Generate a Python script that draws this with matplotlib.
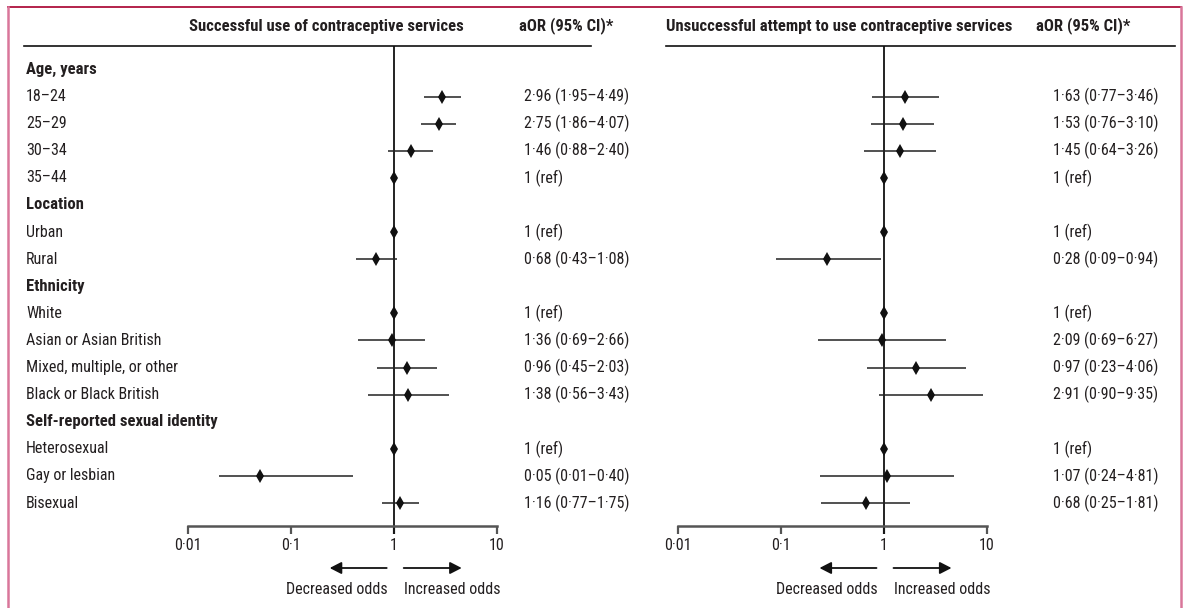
import numpy as np
import matplotlib
matplotlib.use("Agg")
import matplotlib.pyplot as plt
from matplotlib import font_manager
from matplotlib.transforms import blended_transform_factory
from matplotlib.lines import Line2D
from matplotlib.patches import FancyArrowPatch
from matplotlib.ticker import FixedLocator, FixedFormatter, NullLocator

# ---------------- data ----------------
row_labels = ["Age, years", "18–24", "25–29", "30–34", "35–44",
              "Location", "Urban", "Rural",
              "Ethnicity", "White", "Asian or Asian British",
              "Mixed, multiple, or other", "Black or Black British",
              "Self-reported sexual identity", "Heterosexual",
              "Gay or lesbian", "Bisexual"]
row_is_header = [True, False, False, False, False,
                 True, False, False,
                 True, False, False, False, False,
                 True, False, False, False]

nan = np.nan
# Successful use of contraceptive services (as drawn)
succ_est = [nan, 2.96, 2.75, 1.46, 1.0, nan, 1.0, 0.68, nan, 1.0, 0.96, 1.36, 1.38, nan, 1.0, 0.05, 1.16]
succ_lo = [nan, 1.95, 1.86, 0.88, nan, nan, nan, 0.43, nan, nan, 0.45, 0.69, 0.56, nan, nan, 0.02, 0.77]
succ_hi = [nan, 4.49, 4.07, 2.40, nan, nan, nan, 1.08, nan, nan, 2.03, 2.66, 3.43, nan, nan, 0.40, 1.75]
succ_text = ["", "2·96 (1·95–4·49)", "2·75 (1·86–4·07)", "1·46 (0·88–2·40)", "1 (ref)",
             "", "1 (ref)", "0·68 (0·43–1·08)",
             "", "1 (ref)", "1·36 (0·69–2·66)", "0·96 (0·45–2·03)", "1·38 (0·56–3·43)",
             "", "1 (ref)", "0·05 (0·01–0·40)", "1·16 (0·77–1·75)"]

# Unsuccessful attempt to use contraceptive services (as drawn)
unsu_est = [nan, 1.63, 1.53, 1.45, 1.0, nan, 1.0, 0.28, nan, 1.0, 0.97, 2.09, 2.91, nan, 1.0, 1.07, 0.68]
unsu_lo = [nan, 0.77, 0.76, 0.64, nan, nan, nan, 0.09, nan, nan, 0.23, 0.69, 0.90, nan, nan, 0.24, 0.25]
unsu_hi = [nan, 3.46, 3.10, 3.26, nan, nan, nan, 0.94, nan, nan, 4.06, 6.27, 9.35, nan, nan, 4.81, 1.81]
unsu_text = ["", "1·63 (0·77–3·46)", "1·53 (0·76–3·10)", "1·45 (0·64–3·26)", "1 (ref)",
             "", "1 (ref)", "0·28 (0·09–0·94)",
             "", "1 (ref)", "2·09 (0·69–6·27)", "0·97 (0·23–4·06)", "2·91 (0·90–9·35)",
             "", "1 (ref)", "1·07 (0·24–4·81)", "0·68 (0·25–1·81)"]

tick_values = [0.01, 0.1, 1, 10]
tick_labels = ["0·01", "0·1", "1", "10"]
panel_titles = ["Successful use of contraceptive services",
                "Unsuccessful attempt to use contraceptive services"]
col_header = "aOR (95% CI)*"
arrow_labels = ["Decreased odds", "Increased odds"]

# ---------------- style ----------------
available = {f.name for f in font_manager.fontManager.ttflist}
family = "DejaVu Sans"
for cand in ["Roboto Condensed", "Liberation Sans Narrow", "Open Sans Condensed", "Lato", "Roboto"]:
    if cand in available:
        family = cand
        break
plt.rcParams["font.family"] = [family, "DejaVu Sans"]
FS = 11.5
FSB = 12.0
TXT = "#231f20"

W, H = 1184, 608
fig = plt.figure(figsize=(W / 100, H / 100), dpi=100)

def fx(px):
    return px / W

def fy(py):
    return 1 - py / H

row0_px, row_step = 69.5, 27.1
def row_of(py):
    return (py - row0_px) / row_step

top_px, bot_px = 45.5, 534.0
axis_px = 525.7

panels = [
    dict(x01=187.7, est=succ_est, lo=succ_lo, hi=succ_hi, text=succ_text,
         title=panel_titles[0], title_x=189, head_x=519, val_x=524, line=(24, 591)),
    dict(x01=677.5, est=unsu_est, lo=unsu_lo, hi=unsu_hi, text=unsu_text,
         title=panel_titles[1], title_x=666, head_x=1036, val_x=1053, line=(666, 1175)),
]
decade = 103.0
rows = np.arange(len(row_labels))

for p in panels:
    left = p["x01"]
    ax = fig.add_axes([fx(left), fy(bot_px), fx(3 * decade), (bot_px - top_px) / H])
    ax.set_xscale("log")
    ax.set_xlim(0.01, 10)
    ax.set_ylim(row_of(bot_px), row_of(top_px))
    ax.patch.set_alpha(0)
    for s in ["top", "left", "right"]:
        ax.spines[s].set_visible(False)
    ax.spines["bottom"].set_position(("data", row_of(axis_px)))
    ax.spines["bottom"].set_color("#555555")
    ax.spines["bottom"].set_linewidth(1.8)
    ax.yaxis.set_visible(False)
    ax.xaxis.set_major_locator(FixedLocator(tick_values))
    ax.xaxis.set_major_formatter(FixedFormatter(tick_labels))
    ax.xaxis.set_minor_locator(NullLocator())
    ax.tick_params(axis="x", direction="out", length=6, width=1.6, color="#555555",
                   labelsize=FS, labelcolor=TXT, pad=3)
    ax.axvline(1, color="#111111", lw=1.3, zorder=2)
    est = np.array(p["est"], float)
    lo = np.array(p["lo"], float)
    hi = np.array(p["hi"], float)
    ok = ~np.isnan(lo)
    ax.hlines(rows[ok], lo[ok], hi[ok], color="#222222", lw=1.1, zorder=3)
    ok2 = ~np.isnan(est)
    ax.plot(est[ok2], rows[ok2], linestyle="none", marker="d", markersize=7.5,
            markeredgewidth=0, color="#111111", zorder=4)

    # value column
    tr = blended_transform_factory(fig.transFigure, ax.transData)
    for r, t in zip(rows, p["text"]):
        if t:
            ax.text(fx(p["val_x"]), r, t, transform=tr, ha="left", va="center",
                    fontsize=FS, color=TXT)
    # headers
    fig.text(fx(p["title_x"]), fy(26), p["title"], ha="left", va="center",
             fontsize=FSB, fontweight="bold", color=TXT)
    fig.text(fx(p["head_x"]), fy(26), col_header, ha="left", va="center",
             fontsize=FSB, fontweight="bold", color=TXT)
    fig.add_artist(Line2D([fx(p["line"][0]), fx(p["line"][1])], [fy(46), fy(46)],
                          color="#111111", lw=1.2, transform=fig.transFigure))
    # arrows
    one_px = left + 2 * decade
    fig.add_artist(FancyArrowPatch(
        (fx(one_px - 7), fy(568)), (fx(one_px - 64), fy(568)), transform=fig.transFigure,
        arrowstyle="-|>,head_length=7,head_width=3.6", color="#111111", lw=1.3,
        shrinkA=0, shrinkB=0))
    fig.add_artist(FancyArrowPatch(
        (fx(one_px + 10), fy(568)), (fx(one_px + 68), fy(568)), transform=fig.transFigure,
        arrowstyle="-|>,head_length=7,head_width=3.6", color="#111111", lw=1.3,
        shrinkA=0, shrinkB=0))
    fig.text(fx(one_px - 6), fy(590), arrow_labels[0], ha="right", va="center",
             fontsize=FS, color=TXT)
    fig.text(fx(one_px + 10), fy(590), arrow_labels[1], ha="left", va="center",
             fontsize=FS, color=TXT)

# row labels
ax0 = fig.axes[0]
tr0 = blended_transform_factory(fig.transFigure, ax0.transData)
for r, lab, hd in zip(rows, row_labels, row_is_header):
    ax0.text(fx(26), r, lab, transform=tr0, ha="left", va="center",
             fontsize=FSB if hd else FS,
             fontweight="bold" if hd else "normal", color=TXT)

# frame
fig.add_artist(Line2D([fx(7.5), fx(1181)], [fy(7.3), fy(7.3)], color="#b3214b", lw=1.4,
                      transform=fig.transFigure))
fig.add_artist(Line2D([fx(8), fx(8)], [fy(7), fy(610)], color="#d9769a", lw=1.8,
                      transform=fig.transFigure))
fig.add_artist(Line2D([fx(1181), fx(1181)], [fy(7), fy(610)], color="#d9769a", lw=1.8,
                      transform=fig.transFigure))

fig.savefig("out.png", dpi=100)
